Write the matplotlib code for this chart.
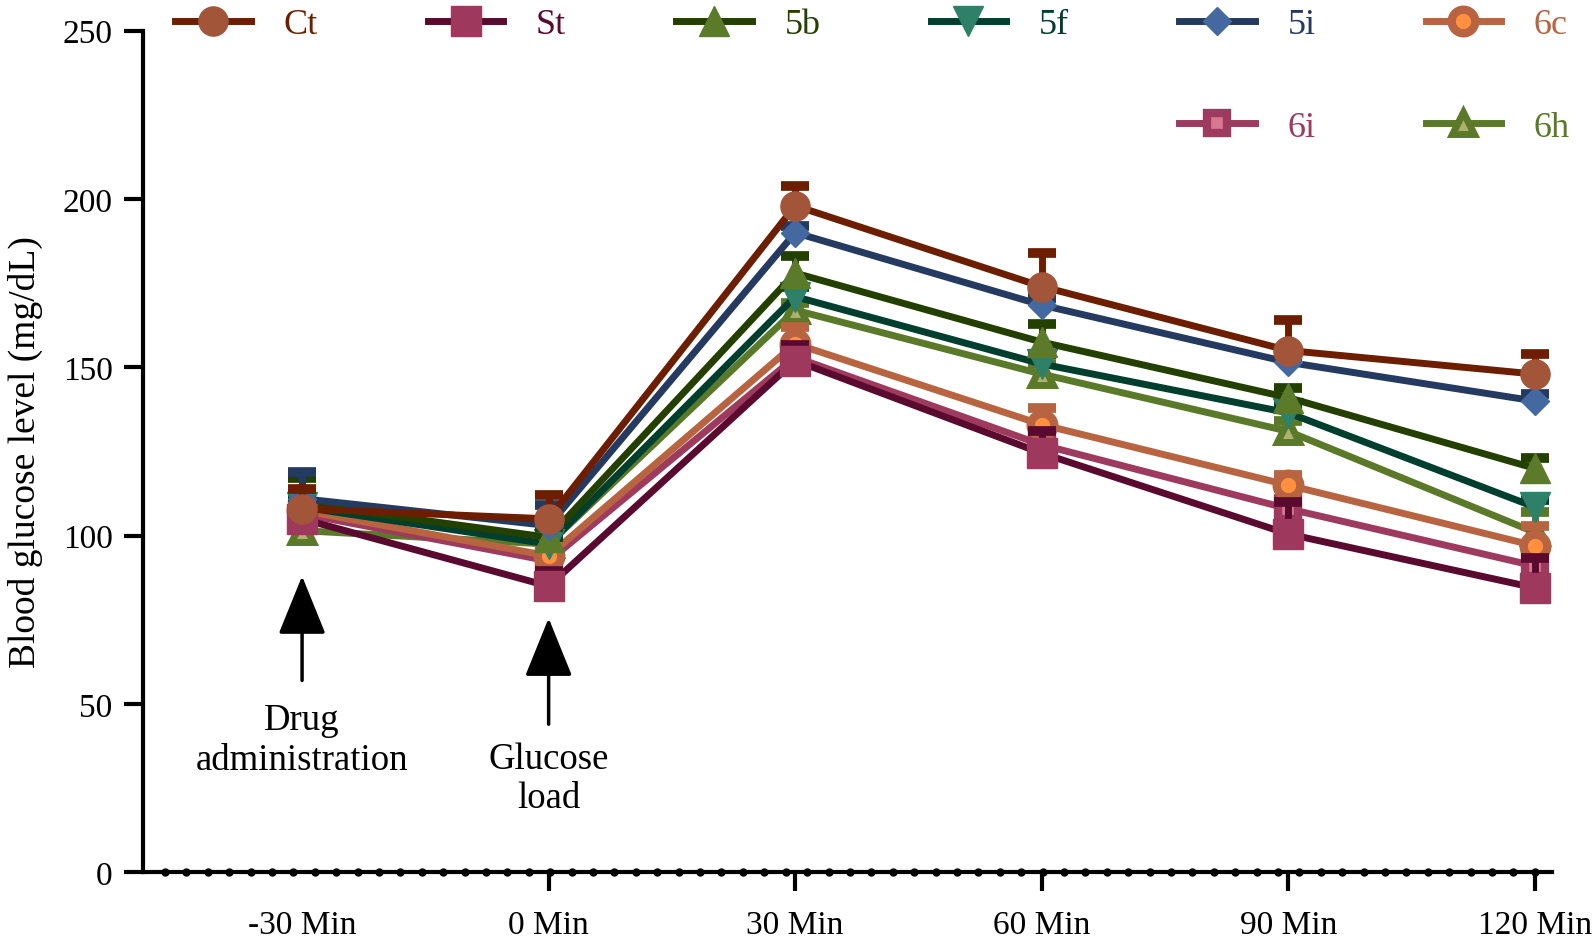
import numpy as np
import matplotlib
matplotlib.use('Agg')
import matplotlib.pyplot as plt
from matplotlib.lines import Line2D

plt.rcParams['font.family'] = ['Liberation Serif', 'DejaVu Serif']

# time points
times = ['-30 Min', '0 Min', '30 Min', '60 Min', '90 Min', '120 Min']

# mean blood glucose (mg/dL)
ct = [108, 105, 198, 174, 155, 148]
st = [105, 85, 152, 124.5, 100.5, 84.5]
g5b = [109.5, 99.5, 178, 157.5, 141, 120]
g5f = [108.5, 97.5, 171, 151, 136.5, 108.5]
g5i = [111, 103, 190, 168.5, 151.5, 140]
g6c = [107.5, 94, 157, 133, 115, 97]
g6i = [106.5, 92.5, 153, 127, 108, 91]
g6h = [101.5, 97.5, 167, 148, 131, 101]

# upper error (SEM)
ct_err = [6, 7, 6, 10, 9, 6]
st_err = [3, 4.5, 4.5, 6.5, 9.5, 9]
g5b_err = [7.5, 3, 5, 5.5, 3, 3]
g5f_err = [3, 2, 3, 3, 2, 2]
g5i_err = [8, 6, 2, 2, 2, 2]
g6c_err = [3, 3, 5, 5, 3, 6]
g6i_err = [3, 3, 3, 3, 3, 3]
g6h_err = [2, 2, 2, 3, 3, 6]

labels = ['Ct', 'St', '5b', '5f', '5i', '6c', '6i', '6h']

# style per series: line colour, marker, marker size, face, edge, edge width
styles = {
    'Ct': dict(lc='#6E1E00', m='o', ms=21, fc='#A3553A', ec='#A3553A', mew=1),
    'St': dict(lc='#5A0A2E', m='s', ms=21, fc='#9E385C', ec='#9E385C', mew=1),
    '5b': dict(lc='#244000', m='^', ms=22, fc='#5B7B2B', ec='#5B7B2B', mew=1),
    '5f': dict(lc='#003F2E', m='v', ms=22, fc='#2E8068', ec='#2E8068', mew=1),
    '5i': dict(lc='#253A60', m='D', ms=14, fc='#4369A0', ec='#4369A0', mew=1),
    '6c': dict(lc='#B86440', m='o', ms=17, fc='#FF9040', ec='#B86440', mew=6),
    '6i': dict(lc='#9E3A5E', m='s', ms=15, fc='#D87890', ec='#9E3A5E', mew=6),
    '6h': dict(lc='#5A7A2A', m='^', ms=16, fc='#B0B070', ec='#5A7A2A', mew=5),
}

series = {'Ct': (ct, ct_err), 'St': (st, st_err), '5b': (g5b, g5b_err),
          '5f': (g5f, g5f_err), '5i': (g5i, g5i_err), '6c': (g6c, g6c_err),
          '6i': (g6i, g6i_err), '6h': (g6h, g6h_err)}

draw_order = ['6h', '6i', '6c', '5f', '5b', 'St', '5i', 'Ct']

fig = plt.figure(figsize=(15.94, 9.45), dpi=100)
ax = fig.add_axes([0.0899, 0.0758, 0.8838, 0.8907])

x = np.arange(len(times))

for i, name in enumerate(draw_order):
    y, err = series[name]
    s = styles[name]
    y = np.array(y)
    top = y + np.array(err)
    z = 3 + i
    # error bars, upper side only
    ax.vlines(x, y, top, color=s['lc'], lw=5, zorder=z)
    ax.plot(x, top, ls='none', marker='_', ms=20, mew=7, color=s['lc'], zorder=z)
    ax.plot(x, y, color=s['lc'], lw=5, marker=s['m'], ms=s['ms'],
            mfc=s['fc'], mec=s['ec'], mew=s['mew'], zorder=z + 0.5)

# arrows with labels
arrow = dict(arrowstyle='-|>,head_length=1.85,head_width=0.75', mutation_scale=20,
             color='black', lw=2.5, shrinkA=0, shrinkB=0)
ax.annotate('', xy=(0, 88), xytext=(0, 57), arrowprops=arrow)
ax.annotate('', xy=(1, 75.5), xytext=(1, 44), arrowprops=arrow)
ax.text(0, 50.5, 'Drug\nadministration', ha='center', va='top', fontsize=26.5,
        linespacing=1.2)
ax.text(1, 39, 'Glucose\nload', ha='center', va='top', fontsize=26.5,
        linespacing=1.2)

# axes
ax.set_xlim(-0.644, 5.07)
ax.set_ylim(0, 250)
ax.set_yticks([0, 50, 100, 150, 200, 250])
ax.set_xticks(x)
ax.set_xticklabels(times)
ax.xaxis.get_major_ticks()[0].tick1line.set_visible(False)
ax.tick_params(axis='both', labelsize=24, length=14, width=3, direction='out')
ax.tick_params(axis='y', pad=8)
ax.tick_params(axis='x', pad=13)
for side in ['top', 'right']:
    ax.spines[side].set_visible(False)
for side in ['left', 'bottom']:
    ax.spines[side].set_linewidth(3)
ax.set_ylabel('Blood glucose level (mg/dL)', fontsize=27, labelpad=14)

# dotted decoration along the x axis
dots = np.linspace(-0.556, 5.0, 65)
ax.plot(dots, np.zeros_like(dots), ls='none', marker='o', ms=5, color='black',
        clip_on=False, zorder=20)

# legend: 6 columns, second row only under 5i and 6c
handles = {}
for name in labels:
    s = styles[name]
    handles[name] = Line2D([], [], color=s['lc'], lw=5, marker=s['m'], ms=s['ms'],
                           mfc=s['fc'], mec=s['ec'], mew=s['mew'])
blank = Line2D([], [], ls='none')
leg_order = ['Ct', None, 'St', None, '5b', None, '5f', None, '5i', '6i', '6c', '6h']
leg_handles = [handles[n] if n else blank for n in leg_order]
leg_labels = [n if n else '' for n in leg_order]
leg = ax.legend(leg_handles, leg_labels, ncol=6, mode='expand', frameon=False,
                loc='upper left', bbox_to_anchor=(175 / 1594, 0.9905, 1395 / 1594, 0.0),
                bbox_transform=fig.transFigure, borderaxespad=0, borderpad=0,
                fontsize=26, handlelength=2.1, handletextpad=0.9, labelspacing=1.92)
for txt, n in zip(leg.get_texts(), leg_order):
    if n:
        txt.set_color(styles[n]['lc'])

fig.savefig('out.png', dpi=100)
